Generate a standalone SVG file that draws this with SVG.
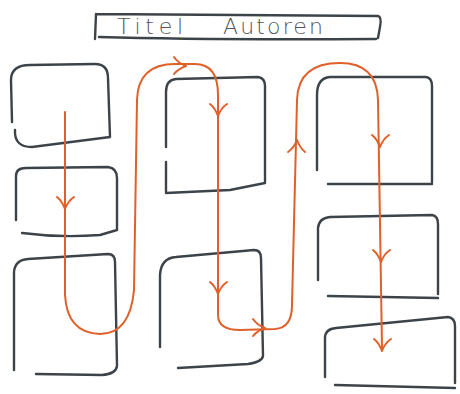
<svg xmlns="http://www.w3.org/2000/svg" width="460" height="394" viewBox="0 0 460 394">
<style>
.box{fill:none;stroke:#3d4449;stroke-width:2.4;stroke-linecap:round;stroke-linejoin:round}
.flow{fill:none;stroke:#e0602a;stroke-width:2;stroke-linecap:round;stroke-linejoin:round}
.title{font-family:"DejaVu Sans","Liberation Sans",sans-serif;font-weight:200;font-size:22px;fill:#555}
</style>
<defs>
<path id="chev" d="M-8,-9 Q-3,-5 0,3 M0,3 Q3,-5 9,-9" class="flow"/>
</defs>
<rect width="460" height="394" fill="#fff"/>
<g id="title">
<path class="box" d="M96,14 L378,16 Q382,17 380,27 L378,38 M96,14 L95,39 M99,37 Q200,40 376,39" stroke-width="2"/>
<text class="title" x="117" y="34" textLength="66" lengthAdjust="spacing">Titel</text>
<text class="title" x="223" y="34" textLength="100" lengthAdjust="spacing">Autoren</text>
</g>
<g id="boxA"><path class="box" d="M12,122 L11,80 Q11,65 30,65 L95,64 Q108,64 108,78 L110,137 M15,130 Q14,147 32,147 L110,137"/></g>
<g id="boxB"><path class="box" d="M16,220 L16,176 Q16,168 26,168 L108,167 Q117,168 117,178 L117,230 M22,233 Q60,238 100,235 L117,230"/></g>
<g id="boxC"><path class="box" d="M14,370 L14,272 Q15,260 28,259 L108,254 Q115,254 115,262 L117,366 Q116,374 102,375 L36,374"/></g>
<g id="boxD"><path class="box" d="M166,147 L166,92 Q166,80 176,79 L258,77 Q265,78 265,86 L265,182 M166,162 L166,193 L230,190 L265,183"/></g>
<g id="boxE"><path class="box" d="M160,347 L160,275 Q161,258 176,257 L254,250 Q261,250 261,258 L263,356 Q262,362 248,364 L178,368"/></g>
<g id="boxF"><path class="box" d="M317,170 L317,95 Q317,78 330,77 L426,77 Q432,78 432,86 L432,182 M328,184 L432,184"/></g>
<g id="boxG"><path class="box" d="M318,280 L318,228 Q319,218 330,217 L432,215 Q438,216 438,224 L438,294 M328,296 L438,298"/></g>
<g id="boxH"><path class="box" d="M325,377 L325,338 Q325,329 336,328 L448,317 Q455,318 455,326 L455,383 M335,385 L455,388"/></g>
<g id="connectors">
<path class="flow" d="M65,112 L65,295 Q67,333 100,334 Q130,334 134,290 L137,100 Q138,64 175,64 L195,64 Q218,64 218,95 L218,315 Q218,330 240,330 L275,329 Q292,328 292,305 L297,100 Q298,63 340,63 Q377,63 378,100 L382,348"/>
<use href="#chev" transform="translate(65,206)"/>
<use href="#chev" transform="translate(183,66) rotate(-90)"/>
<use href="#chev" transform="translate(218,113)"/>
<use href="#chev" transform="translate(218,291)"/>
<use href="#chev" transform="translate(262,328) rotate(-90)"/>
<use href="#chev" transform="translate(297,143) rotate(180)"/>
<use href="#chev" transform="translate(380,144)"/>
<use href="#chev" transform="translate(381,259)"/>
<use href="#chev" transform="translate(382,348)"/>
</g>
</svg>
